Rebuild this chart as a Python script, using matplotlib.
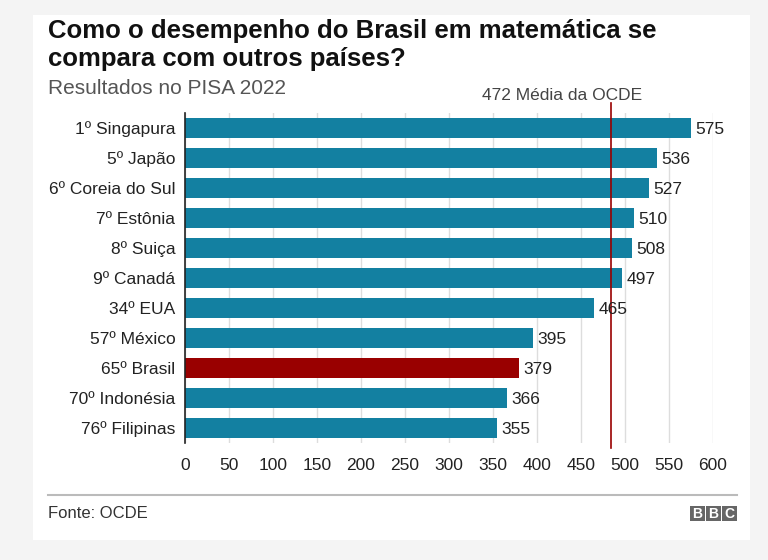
import matplotlib.pyplot as plt
from matplotlib.patches import Rectangle

plt.rcParams['font.family'] = ['Liberation Sans', 'DejaVu Sans']

paises = ['1º Singapura', '5º Japão', '6º Coreia do Sul', '7º Estônia', '8º Suiça',
          '9º Canadá', '34º EUA', '57º México', '65º Brasil', '70º Indonésia', '76º Filipinas']
notas = [575, 536, 527, 510, 508, 497, 465, 395, 379, 366, 355]
destaque = '65º Brasil'
media_ocde = 472
# the line in the original sits a bit to the right of 472
linha_ocde = 484
xticks = list(range(0, 601, 50))

azul = '#1380a1'
vermelho = '#990000'

fig = plt.figure(figsize=(7.68, 5.6), dpi=100)
fig.patch.set_facecolor('#f4f4f4')
fig.patches.append(Rectangle((33/768, 1-540/560), 717/768, 525/560, transform=fig.transFigure,
                             facecolor='white', edgecolor='none', zorder=-5))

ax = fig.add_axes([185/768, 1-443/560, 528/768, 330/560])
ax.set_facecolor('white')
ypos = list(range(len(paises)))
cores = [vermelho if p == destaque else azul for p in paises]
ax.barh(ypos, notas, height=0.68, color=cores, zorder=2)
for y, v in zip(ypos, notas):
    ax.text(v + 5, y, str(v), va='center_baseline', ha='left', fontsize=12.5, color='#222222',
            clip_on=False, zorder=4)

ax.set_xlim(0, 600)
ax.set_ylim(len(paises) - 0.5, -0.5)
ax.set_yticks(ypos)
ax.set_yticklabels(paises, fontsize=12.5, color='#222222')
ax.set_xticks(xticks)
ax.set_xticklabels([str(t) for t in xticks], fontsize=12.5, color='#222222')
ax.tick_params(axis='both', length=0, pad=7)
ax.tick_params(axis='x', pad=11)
ax.grid(axis='x', color='#dddddd', linewidth=1, zorder=1)
for s in ['top', 'right', 'bottom']:
    ax.spines[s].set_visible(False)
ax.spines['left'].set_color('#222222')
ax.spines['left'].set_linewidth(1.2)
ax.spines['left'].set_zorder(3)

ax.plot([linha_ocde, linha_ocde], [-0.85, len(paises) - 0.35], color=vermelho,
        linewidth=1.2, clip_on=False, zorder=3)
ax.text(linha_ocde - 56, -1.08, f'{media_ocde} Média da OCDE', ha='center', va='center',
        fontsize=12.5, color='#444444', clip_on=False)

fig.text(48/768, 1-31/560, 'Como o desempenho do Brasil em matemática se', fontsize=18.5,
         fontweight='bold', color='#111111', va='center')
fig.text(48/768, 1-59/560, 'compara com outros países?', fontsize=18.5,
         fontweight='bold', color='#111111', va='center')
fig.text(48/768, 1-88/560, 'Resultados no PISA 2022', fontsize=15, color='#555555', va='center')

fig.add_artist(plt.Line2D([48/768, 737/768], [1-495/560, 1-495/560], color='#bbbbbb',
                          linewidth=1.5, transform=fig.transFigure))
fig.text(48/768, 1-513/560, 'Fonte: OCDE', fontsize=12, color='#333333', va='center')

for i, letra in enumerate('BBC'):
    x0 = (690 + i * 16) / 768
    fig.patches.append(Rectangle((x0, 1-521/560), 15/768, 15/560, transform=fig.transFigure,
                                 facecolor='#666666', edgecolor='none'))
    fig.text(x0 + 7.5/768, 1-513.5/560, letra, fontsize=10, fontweight='bold', color='white',
             ha='center', va='center')

fig.savefig('out.png', dpi=100, facecolor=fig.get_facecolor())
